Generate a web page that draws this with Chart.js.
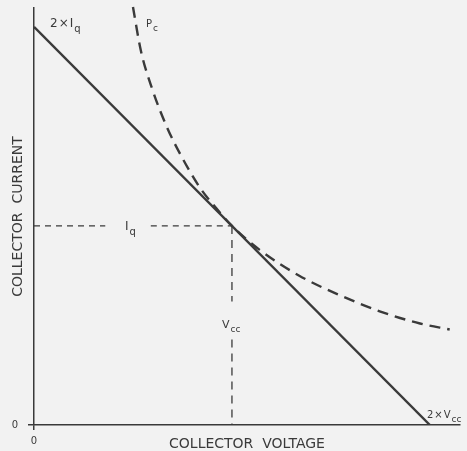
<!DOCTYPE html>
<html>
<head>
<meta charset="utf-8">
<script src="https://cdn.jsdelivr.net/npm/chart.js@4"></script>
<style>
  html, body { margin: 0; padding: 0; background: #f2f2f2; }
  #wrap { width: 467px; height: 451px; }
</style>
</head>
<body>
<div id="wrap"><canvas id="myChart"></canvas></div>
<script>
// load line: 2 x Iq at zero volts down to 2 x Vcc at zero current
const loadVolts = [0, 2];
const loadAmps = [2, 0];

// Pc curve (units of Vcc and Iq)
const pcVolts = [0.5, 0.54, 0.6, 0.67, 0.75, 0.84, 0.92, 1.0, 1.14, 1.34, 1.55, 1.75, 1.95, 2.1];
const pcAmps  = [2.1, 1.88, 1.68, 1.5, 1.34, 1.19, 1.09, 1.0, 0.88, 0.75, 0.65, 0.57, 0.51, 0.48];

// operating point
const qVolts = 1;
const qAmps = 1;

const xTicks = [0];
const yTicks = [0];

const ink = '#3a3a3a';
const fam = '"DejaVu Sans", sans-serif';

const pts = (xs, ys) => xs.map((x, i) => ({ x: x, y: ys[i] }));

// little text labels with subscripts
const labelPlugin = {
  id: 'labels',
  afterDatasetsDraw(chart) {
    const ctx = chart.ctx;
    ctx.save();
    ctx.fillStyle = ink;
    ctx.textBaseline = 'alphabetic';
    ctx.textAlign = 'left';
    function sub(x, y, main, s, size) {
      ctx.font = size + 'px ' + fam;
      ctx.letterSpacing = '1px';
      ctx.fillText(main, x, y);
      const w = ctx.measureText(main).width;
      ctx.letterSpacing = '0px';
      ctx.font = Math.round(size * 0.85) + 'px ' + fam;
      ctx.fillText(s, x + w, y + size * 0.4);
    }
    sub(50, 27, '2\u00d7I', 'q', 12);
    sub(146, 27, 'P', 'c', 10);
    sub(125, 230, 'I', 'q', 12);
    sub(222, 328, 'V', 'cc', 11);
    sub(427, 418, '2\u00d7V', 'cc', 10);
    ctx.restore();
  }
};

const ctx = document.getElementById('myChart');

new Chart(ctx, {
  type: 'line',
  data: {
    datasets: [
      {
        label: 'load line',
        data: pts(loadVolts, loadAmps),
        borderColor: ink,
        borderWidth: 2.4,
        tension: 0
      },
      {
        label: 'Pc',
        data: pts(pcVolts, pcAmps),
        borderColor: ink,
        borderWidth: 2.4,
        borderDash: [11, 7],
        cubicInterpolationMode: 'monotone',
        clip: false
      },
      {
        label: 'Iq',
        data: [{ x: 0, y: qAmps }, { x: 0.36, y: qAmps }, { x: 0.47, y: null }, { x: 0.59, y: qAmps }, { x: qVolts, y: qAmps }],
        borderColor: ink,
        borderWidth: 1.3,
        borderDash: [6, 5],
        spanGaps: false
      },
      {
        label: 'Vcc',
        data: [{ x: qVolts, y: qAmps }, { x: qVolts, y: 0.62 }, { x: qVolts, y: null }, { x: qVolts, y: 0.43 }, { x: qVolts, y: 0 }],
        borderColor: ink,
        borderWidth: 1.3,
        borderDash: [8, 6],
        spanGaps: false
      }
    ]
  },
  options: {
    responsive: true,
    maintainAspectRatio: false,
    animation: false,
    layout: { padding: { top: 8, right: 7, left: 0, bottom: 0 } },
    elements: { point: { radius: 0 } },
    plugins: {
      legend: { display: false },
      tooltip: { enabled: false }
    },
    scales: {
      x: {
        type: 'linear',
        min: 0,
        max: 2.152,
        afterFit: s => { s.height = 26; s.paddingLeft = 0; s.paddingRight = 0; },
        afterBuildTicks: s => { s.ticks = xTicks.map(v => ({ value: v })); },
        grid: { display: true, drawOnChartArea: false, drawTicks: true, tickLength: 5, color: ink, lineWidth: 1.5 },
        border: { display: true, color: ink, width: 1.5 },
        ticks: { color: ink, font: { family: fam, size: 10 }, padding: 5, maxRotation: 0 },
        title: {
          display: true,
          text: 'COLLECTOR  VOLTAGE',
          color: ink,
          font: { family: fam, size: 14, lineHeight: 1 },
          padding: { top: 0, bottom: 0 }
        }
      },
      y: {
        type: 'linear',
        min: 0,
        max: 2.095,
        afterFit: s => { s.width = 34; s.paddingTop = 0; s.paddingBottom = 0; },
        afterBuildTicks: s => { s.ticks = yTicks.map(v => ({ value: v })); },
        grid: { display: true, drawOnChartArea: false, drawTicks: true, tickLength: 6, color: ink, lineWidth: 1.5 },
        border: { display: true, color: ink, width: 1.5 },
        ticks: { color: ink, font: { family: fam, size: 10 }, padding: 10 },
        title: {
          display: true,
          text: 'COLLECTOR  CURRENT',
          color: ink,
          font: { family: fam, size: 14, lineHeight: 1 },
          padding: { top: 11, bottom: 0 }
        }
      }
    }
  },
  plugins: [labelPlugin]
});
</script>
</body>
</html>
